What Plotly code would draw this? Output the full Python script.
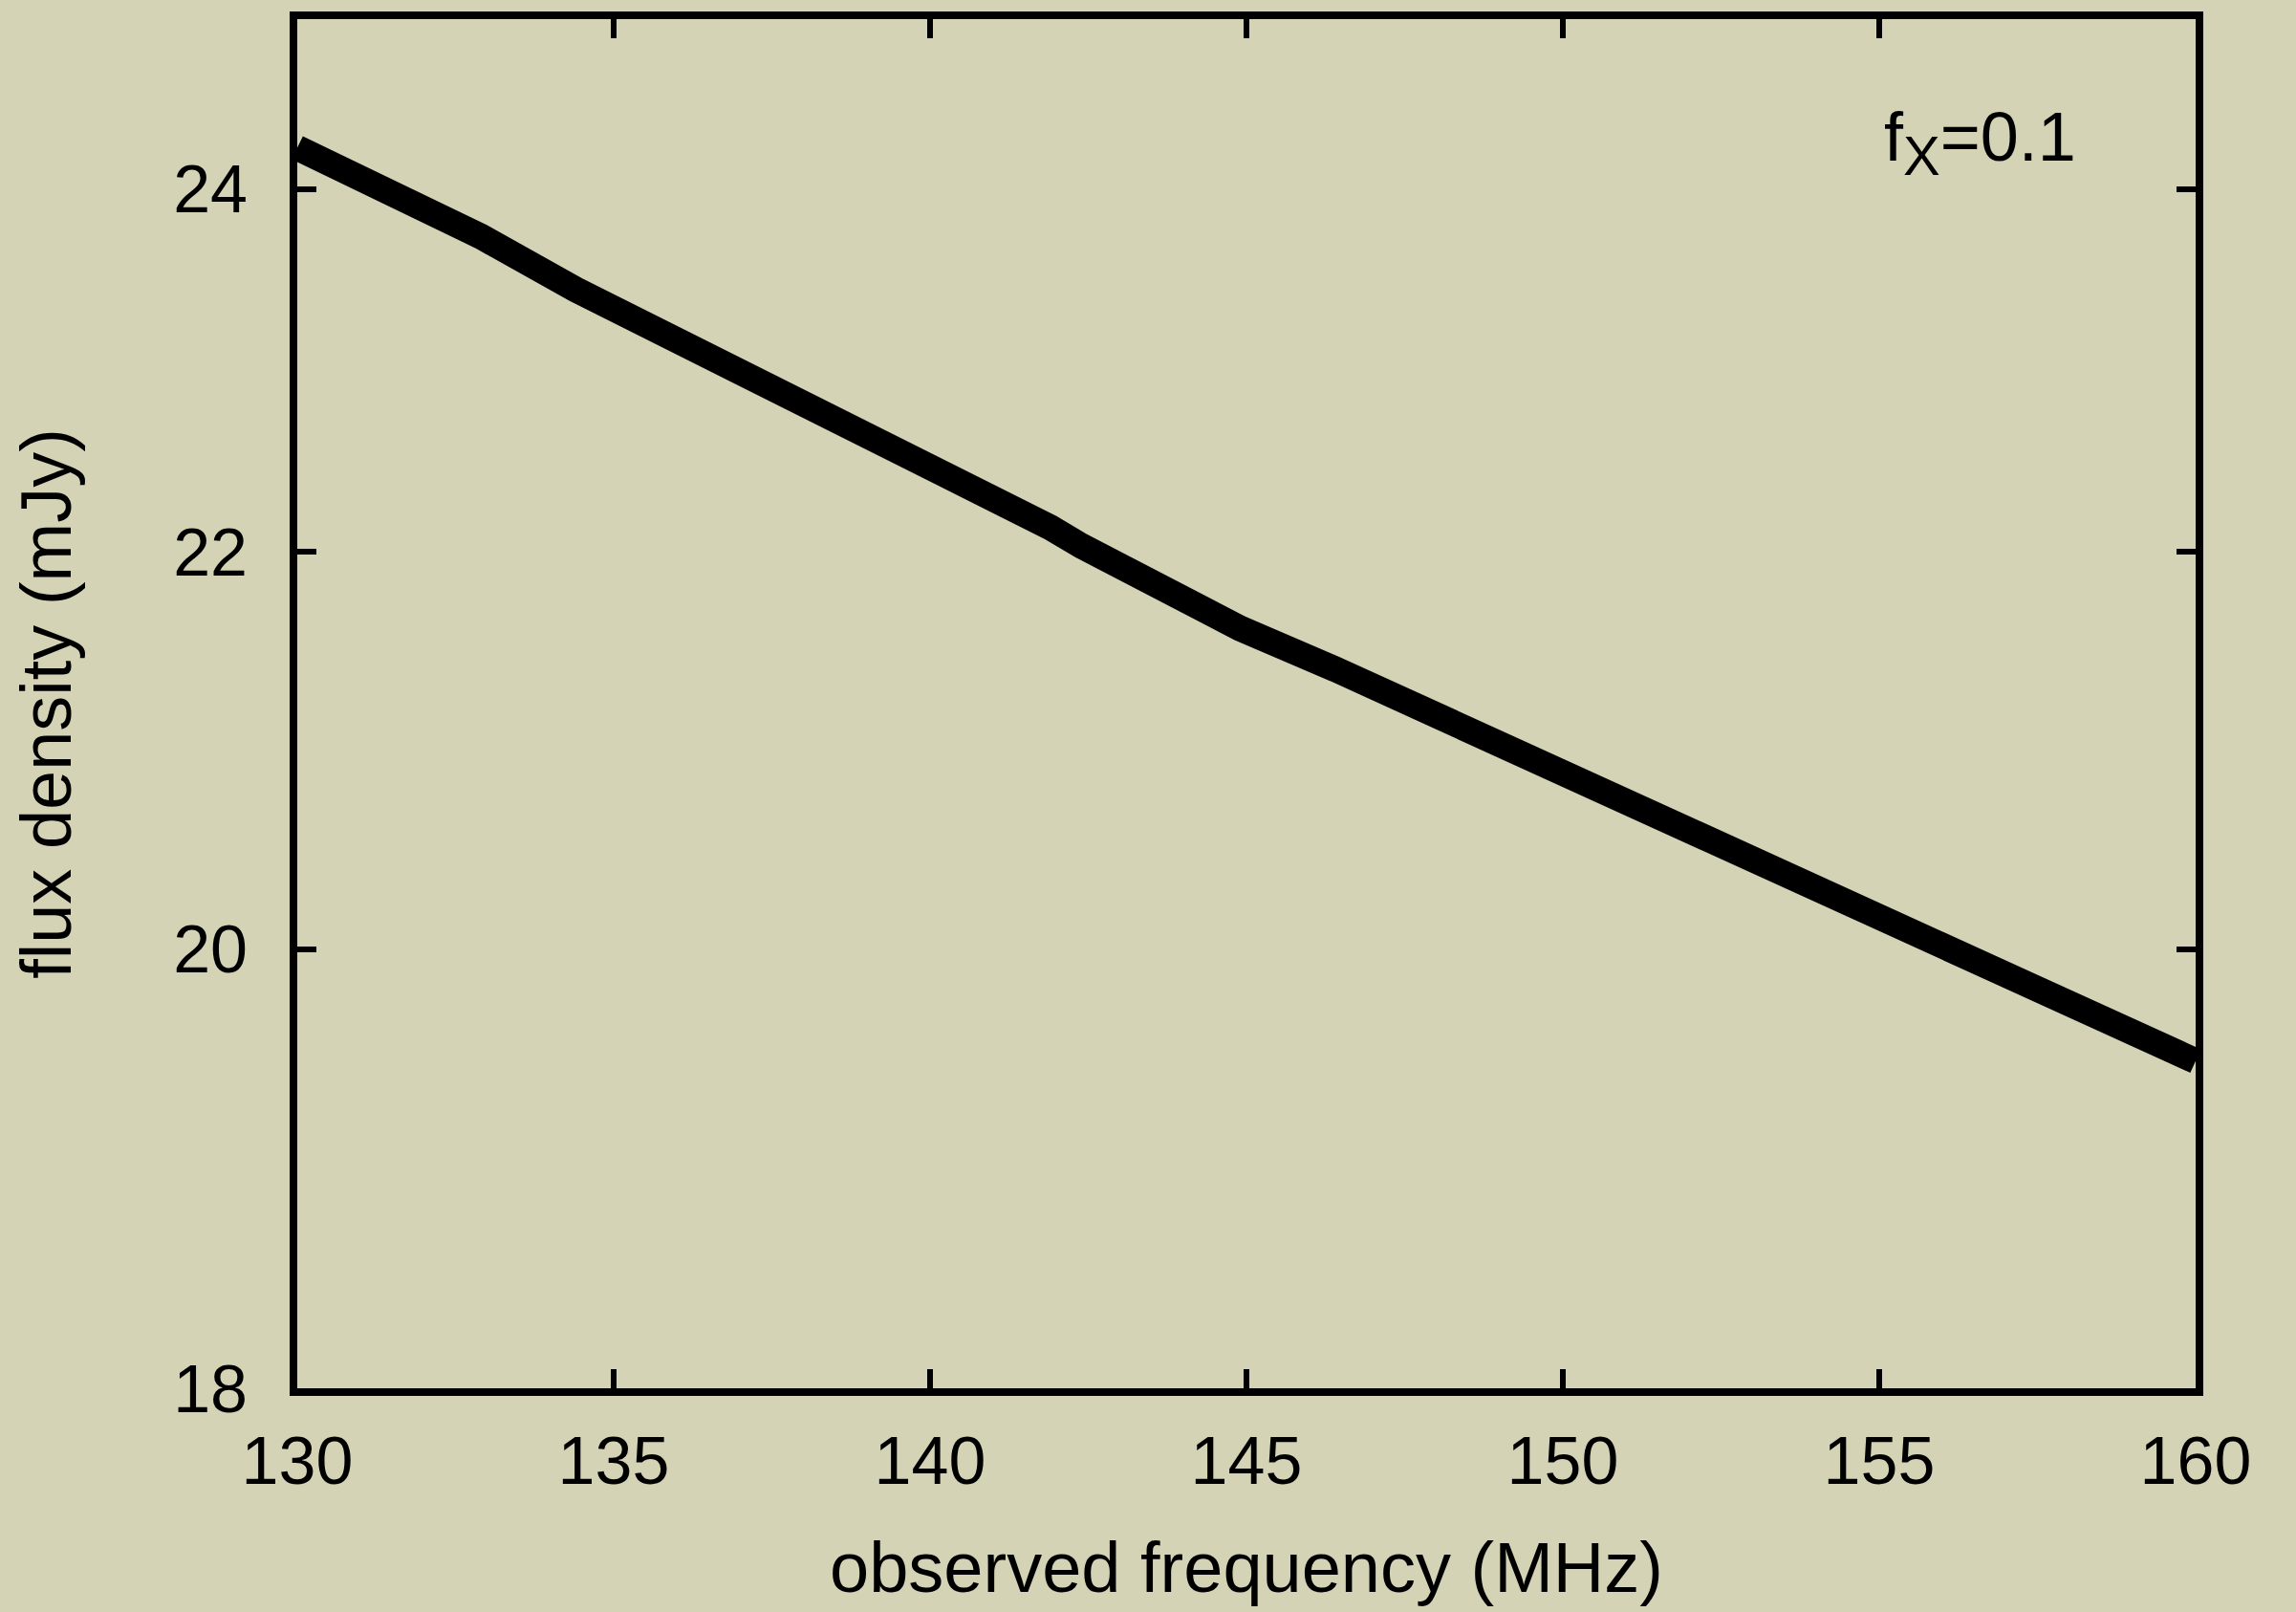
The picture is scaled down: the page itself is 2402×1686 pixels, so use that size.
import math
import plotly.graph_objects as go

# ---- data ----
freq_mhz = [130.0, 131.4, 132.9, 134.4, 135.9, 137.4, 138.9, 140.4, 141.9, 142.4,
            143.4, 144.9, 146.4, 147.9, 149.5, 151.0, 152.5, 154.0, 155.5, 157.0,
            158.5, 160.0]
flux_mjy = [24.24, 24.00, 23.73, 23.43, 23.17, 22.91, 22.63, 22.39, 22.13, 22.03,
            21.86, 21.60, 21.39, 21.17, 20.94, 20.72, 20.52, 20.32, 20.10, 19.88,
            19.67, 19.47]

x_ticks = [130, 135, 140, 145, 150, 155, 160]
y_ticks = [18, 20, 22, 24]
x_range = [130, 160]
y_range = [18, 25]

BG = "#d4d3b6"
FONT = "Liberation Sans, Arial, Helvetica, sans-serif"

fig = go.Figure()
fig.add_trace(go.Scatter(
    x=freq_mhz, y=flux_mjy, mode="lines",
    line=dict(color="black", width=27),
    hoverinfo="skip", showlegend=False,
))

axis_common = dict(
    ticks="inside", ticklen=20, tickwidth=6, tickcolor="black",
    showline=True, linewidth=8, linecolor="black", mirror="allticks",
    showgrid=False, zeroline=False,
    tickfont=dict(family=FONT, size=70, color="black"),
)

fig.update_layout(
    width=2402, height=1686,
    paper_bgcolor=BG, plot_bgcolor=BG,
    margin=dict(l=311, r=105, t=17, b=234),
    font=dict(family=FONT, color="black"),
    xaxis=dict(
        range=x_range, tickvals=x_ticks, ticktext=[str(v) for v in x_ticks],
        title=dict(text="observed frequency (MHz)", font=dict(family=FONT, size=74), standoff=50),
        ticklabelstandoff=8,
        **axis_common,
    ),
    yaxis=dict(
        type="log", range=[math.log10(y_range[0]), math.log10(y_range[1])],
        tickvals=y_ticks, ticktext=[str(v) for v in y_ticks],
        title=dict(text="flux density (mJy)", font=dict(family=FONT, size=74), standoff=85),
        ticklabelstandoff=30,
        **axis_common,
    ),
    annotations=[dict(
        text="f<sub><span style=\"font-size:58px\">X</span></sub>=0.1",
        xref="paper", yref="paper",
        x=0.835, y=0.91, xanchor="left", yanchor="middle", showarrow=False,
        font=dict(family=FONT, size=72, color="black"),
    )],
)

fig.write_html("out.html")
